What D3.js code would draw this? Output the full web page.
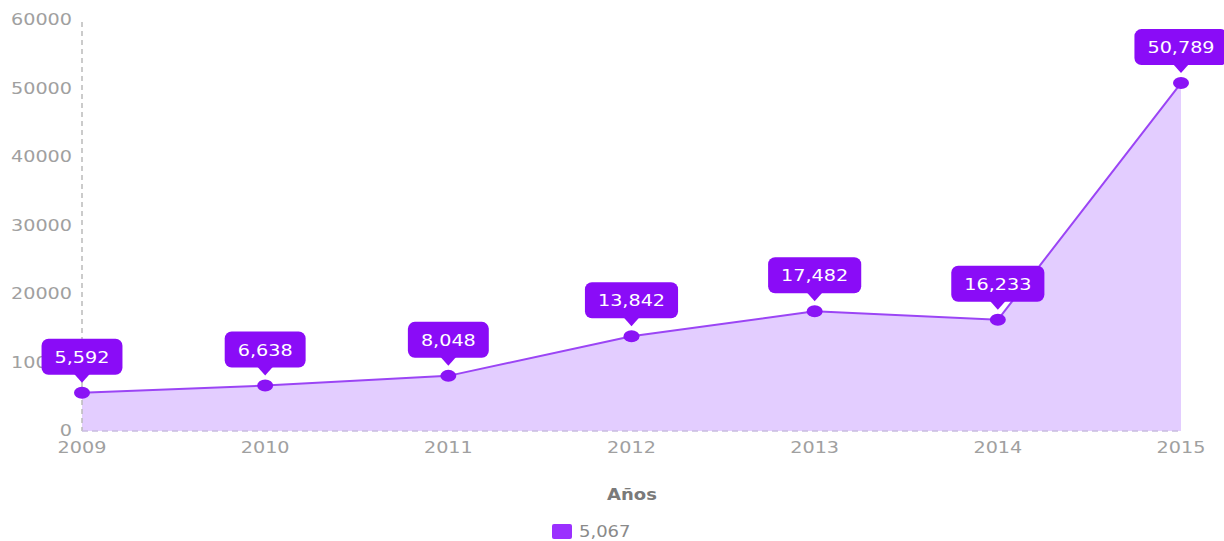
<!DOCTYPE html>
<html>
<head>
<meta charset="utf-8">
<script src="https://cdn.jsdelivr.net/npm/d3@7"></script>
<style>
  html, body { margin: 0; padding: 0; background: #fff; }
  svg { display: block; font-family: "DejaVu Sans", sans-serif; }
</style>
</head>
<body>
<svg id="chart" width="1224" height="541"></svg>
<script>
// Yearly totals
const years = ["2009", "2010", "2011", "2012", "2013", "2014", "2015"];
const values = [5592, 6638, 8048, 13842, 17482, 16233, 50789];
const yTicks = [0, 10000, 20000, 30000, 40000, 50000, 60000];
const xTitle = "Años";
const legendLabel = "5,067";

const W = 1224, H = 541;
const svg = d3.select("#chart");
const fmt = d3.format(",");
const SX = 1.2; // horizontal widening of the lettering

const x = d3.scalePoint().domain(years).range([82, 1181]);
const y = d3.scaleLinear().domain([0, 60000]).range([431, 20]);

const data = years.map((yr, i) => ({ year: yr, value: values[i] }));

function wideText(g, tx, ty, str, opts) {
  return g.append("text")
    .attr("transform", `translate(${tx},${ty}) scale(${SX},1)`)
    .attr("text-anchor", opts.anchor || "middle")
    .attr("font-size", opts.size || 16)
    .attr("font-weight", opts.weight || "normal")
    .attr("fill", opts.fill || "#999")
    .text(str);
}

// Area under the line
const area = d3.area()
  .x(d => x(d.year))
  .y0(y(0))
  .y1(d => y(d.value));
svg.append("path").datum(data)
  .attr("d", area)
  .attr("fill", "#e3cdff");

// Dashed axis lines
svg.append("line")
  .attr("x1", x(years[0])).attr("x2", x(years[0]))
  .attr("y1", y(60000) + 2).attr("y2", y(0))
  .attr("stroke", "#bbb").attr("stroke-width", 1.5)
  .attr("stroke-dasharray", "5,4");
svg.append("line")
  .attr("x1", x(years[0])).attr("x2", x(years[years.length - 1]))
  .attr("y1", y(0)).attr("y2", y(0))
  .attr("stroke", "#c9bde0").attr("stroke-width", 1.5)
  .attr("stroke-dasharray", "6,4");

// Y tick labels
const yg = svg.append("g");
yTicks.forEach(t => {
  wideText(yg, 72, y(t) + 5, String(t), { anchor: "end", size: 16, fill: "#a0a0a0" });
});

// X tick labels
const xg = svg.append("g");
years.forEach(yr => {
  wideText(xg, x(yr), 453, yr, { anchor: "middle", size: 16, fill: "#a0a0a0" });
});

// Line
const line = d3.line().x(d => x(d.year)).y(d => y(d.value));
svg.append("path").datum(data)
  .attr("d", line)
  .attr("fill", "none")
  .attr("stroke", "#9b45f5")
  .attr("stroke-width", 2);

// Markers
svg.append("g").selectAll("ellipse").data(data).join("ellipse")
  .attr("cx", d => x(d.year))
  .attr("cy", d => y(d.value))
  .attr("rx", 8).attr("ry", 6)
  .attr("fill", "#8a14f5");

// Value callouts
const tips = svg.append("g");
data.forEach(d => {
  const px = x(d.year), py = y(d.value);
  const label = fmt(d.value);
  const g = tips.append("g");
  const t = wideText(g, 0, 0, label, { anchor: "middle", size: 16, fill: "#fff" });
  const tw = t.node().getComputedTextLength() * SX;
  const bw = tw + 26, bh = 36;
  const bottom = py - 18;
  g.insert("rect", "text")
    .attr("x", px - bw / 2).attr("y", bottom - bh)
    .attr("width", bw).attr("height", bh)
    .attr("rx", 7)
    .attr("fill", "#8a0cf7");
  g.insert("path", "text")
    .attr("d", `M${px - 8},${bottom - 1} L${px + 8},${bottom - 1} L${px},${bottom + 8} Z`)
    .attr("fill", "#8a0cf7");
  t.attr("transform", `translate(${px},${bottom - bh / 2 + 6}) scale(${SX},1)`);
});

// Axis title
wideText(svg, 632, 500, xTitle, { anchor: "middle", size: 15, weight: "bold", fill: "#7a7a7a" });

// Legend
svg.append("rect")
  .attr("x", 552).attr("y", 524).attr("width", 20).attr("height", 15)
  .attr("rx", 2).attr("fill", "#9b30ff");
wideText(svg, 579, 537, legendLabel, { anchor: "start", size: 15, fill: "#8a8a8a" });
</script>
</body>
</html>
